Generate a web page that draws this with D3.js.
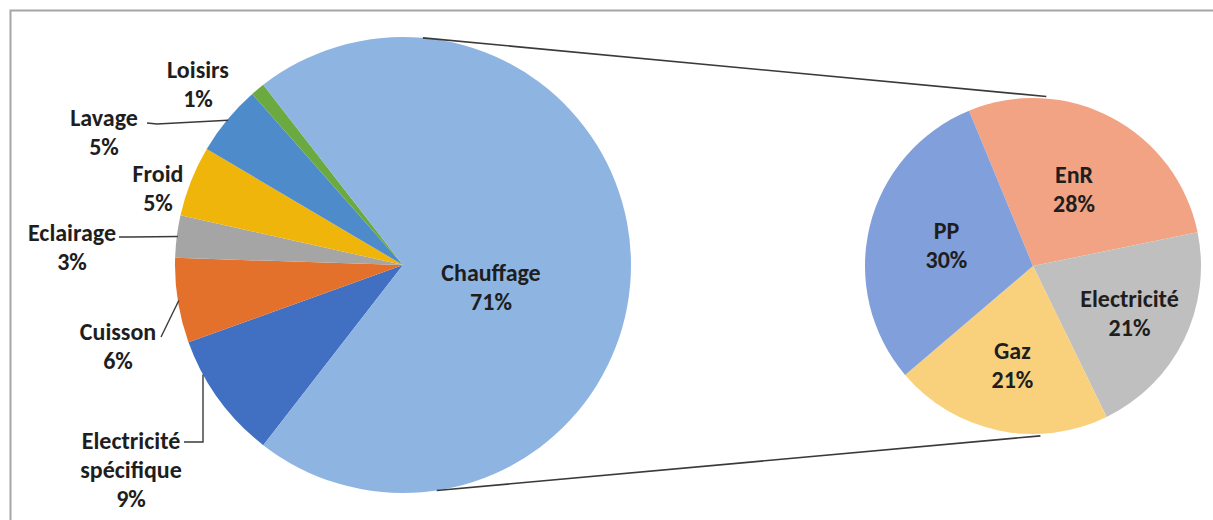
<!DOCTYPE html>
<html>
<head>
<meta charset="utf-8">
<script src="https://cdn.jsdelivr.net/npm/d3@7"></script>
<style>
  html, body { margin: 0; padding: 0; background: #ffffff; }
  svg { display: block; }
  text { font-family: Carlito, Calibri, Lato, "Open Sans", sans-serif; font-weight: 700; fill: #1e1e1e; }
</style>
</head>
<body>
<svg id="chart" width="1213" height="520"></svg>
<script>
// Consommation par usage (camembert principal)
const usageNames = ["Electricité spécifique", "Cuisson", "Eclairage", "Froid", "Lavage", "Loisirs", "Chauffage"];
const usageValues = [9, 6, 3, 5, 5, 1, 71];
const usageColors = ["#4170C2", "#E3712B", "#A5A5A5", "#F0B50B", "#4D8BCB", "#6BAA40", "#8EB4E2"];

// Répartition du chauffage par énergie (camembert secondaire)
const heatNames = ["EnR", "Electricité", "Gaz", "PP"];
const heatValues = [28, 21, 21, 30];
const heatColors = ["#F2A383", "#BFBFBF", "#F9D17D", "#819FDB"];

const deg = Math.PI / 180;
const svg = d3.select("#chart");

// Cadre
svg.append("path")
  .attr("d", "M10.5,530 V10.5 H1230")
  .attr("fill", "none")
  .attr("stroke", "#a6a6a6")
  .attr("stroke-width", 2);

// ---- Camembert principal ----
const main = { cx: 403, cy: 265, r: 228 };
const total = d3.sum(usageValues);
const otherShare = (total - usageValues[usageValues.length - 1]) / total;
// the "Chauffage" slice faces the secondary pie (to the right)
const mainStart = 1.5 * Math.PI - otherShare * Math.PI;
const mainPie = d3.pie().sort(null).value(d => d.v)
  .startAngle(mainStart).endAngle(mainStart + 2 * Math.PI);
const mainArcs = mainPie(usageNames.map((n, i) => ({ n, v: usageValues[i], c: usageColors[i] })));
const mainArc = d3.arc().innerRadius(0).outerRadius(main.r);

const gMain = svg.append("g").attr("transform", `translate(${main.cx},${main.cy})`);
gMain.selectAll("path").data(mainArcs).join("path")
  .attr("d", mainArc)
  .attr("fill", d => d.data.c);

// ---- Camembert secondaire ----
const sub = { cx: 1033, cy: 266, r: 168, start: -22.4 * deg };
const subPie = d3.pie().sort(null).value(d => d.v)
  .startAngle(sub.start).endAngle(sub.start + 2 * Math.PI);
const subArcs = subPie(heatNames.map((n, i) => ({ n, v: heatValues[i], c: heatColors[i] })));
const subArc = d3.arc().innerRadius(0).outerRadius(sub.r);

const gSub = svg.append("g").attr("transform", `translate(${sub.cx},${sub.cy})`);
gSub.selectAll("path").data(subArcs).join("path")
  .attr("d", subArc)
  .attr("fill", d => d.data.c);

// ---- Lignes de liaison entre les deux camemberts ----
const onCircle = (c, a, rr) => [c.cx + (rr || c.r) * Math.sin(a), c.cy - (rr || c.r) * Math.cos(a)];
const links = [
  [onCircle(main, 5 * deg), onCircle(sub, 4.5 * deg, sub.r + 2)],
  [onCircle(main, 171.5 * deg), onCircle(sub, 177.5 * deg, sub.r + 2)]
];
svg.selectAll("line.link").data(links).join("line")
  .attr("class", "link")
  .attr("x1", d => d[0][0]).attr("y1", d => d[0][1])
  .attr("x2", d => d[1][0]).attr("y2", d => d[1][1])
  .attr("stroke", "#3a3a3a")
  .attr("stroke-width", 1.6);

// ---- Étiquettes ----
const fontSize = 24;
const lineGap = 29;
function label(x, y, lines) {
  const t = svg.append("text")
    .attr("text-anchor", "middle")
    .attr("font-size", fontSize);
  lines.forEach((s, i) => {
    t.append("tspan").attr("x", x).attr("y", y + i * lineGap).attr("dy", "0.35em").text(s);
  });
}
const pct = v => Math.round(v / total * 100) + "%";

// positions des étiquettes du camembert principal
const usageLabelPos = {
  "Loisirs": [198, 70],
  "Lavage": [104, 118],
  "Froid": [158, 174],
  "Eclairage": [72, 233],
  "Cuisson": [118, 332],
  "Electricité spécifique": [131, 441],
  "Chauffage": [491, 273]
};
mainArcs.forEach(a => {
  const p = usageLabelPos[a.data.n];
  const parts = a.data.n === "Electricité spécifique" ? ["Electricité", "spécifique"] : [a.data.n];
  label(p[0], p[1], parts.concat([pct(a.data.v)]));
});

// lignes de rappel
const midAngle = a => (a.startAngle + a.endAngle) / 2;
const byName = n => mainArcs.find(a => a.data.n === n);
const leaders = [
  { n: "Lavage", pts: [[147, 123], [157, 124]] },
  { n: "Eclairage", pts: [[119, 237], [132, 237]] },
  { n: "Cuisson", pts: [[161, 337]] },
  { n: "Electricité spécifique", pts: [[184, 442], [203, 442]], vertical: true }
];
leaders.forEach(l => {
  let end;
  if (l.vertical) {
    const x = l.pts[l.pts.length - 1][0];
    const dx = x - main.cx;
    end = [x, main.cy + Math.sqrt(main.r * main.r - dx * dx)];
  } else {
    end = onCircle(main, midAngle(byName(l.n)), main.r - 1);
  }
  svg.append("path")
    .attr("d", d3.line()(l.pts.concat([end])))
    .attr("fill", "none")
    .attr("stroke", "#3a3a3a")
    .attr("stroke-width", 1.4);
});

// étiquettes du camembert secondaire (placées le long du rayon médian)
const heatLabelRadius = { "EnR": 0.52, "Electricité": 0.64, "Gaz": 0.6, "PP": 0.53 };
subArcs.forEach(a => {
  const rr = sub.r * heatLabelRadius[a.data.n];
  const [x, y] = onCircle(sub, midAngle(a), rr);
  label(x, y - lineGap / 2, [a.data.n, pct(a.data.v)]);
});
</script>
</body>
</html>
